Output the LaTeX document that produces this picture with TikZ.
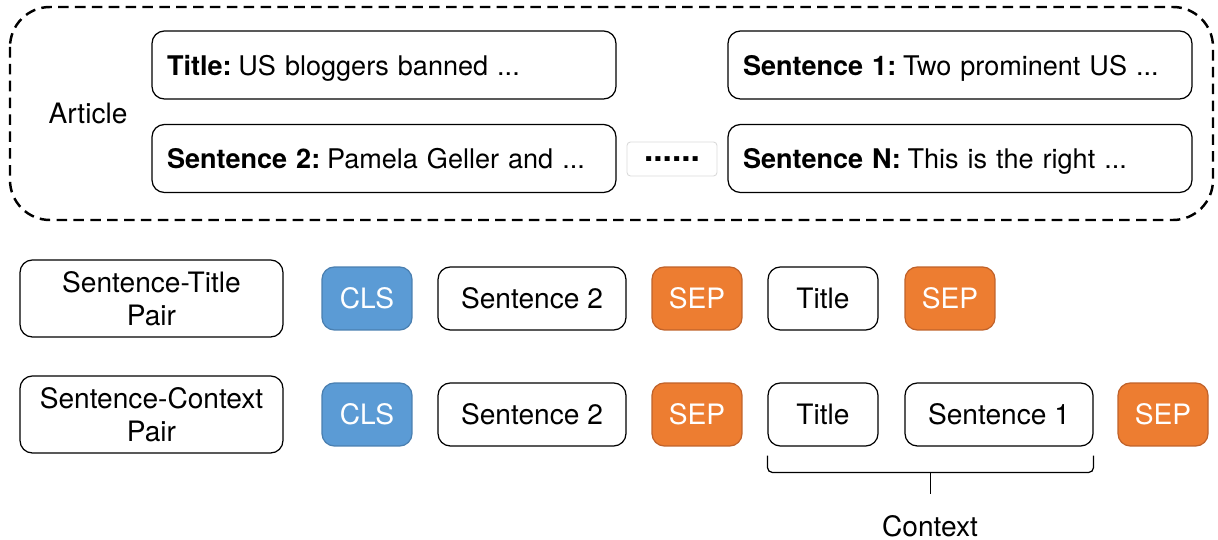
\documentclass[tikz,border=0pt]{standalone}
\usepackage{fontspec}
\setmainfont{TeX Gyre Heros}
\usetikzlibrary{calc}
\definecolor{clsblue}{HTML}{5B9BD5}
\definecolor{clsedge}{HTML}{4A7FB0}
\definecolor{seporange}{HTML}{ED7D31}
\definecolor{sepedge}{HTML}{C0622A}
\newcommand{\lead}[1]{\textbf{#1}\hspace{0.25em}}
\begin{document}
\begin{tikzpicture}[x=0.02cm, y=-0.02cm,
    font=\fontsize{16}{19}\selectfont,
    box/.style={draw, line width=0.7pt, rounded corners=7pt, minimum height=1.26cm, inner sep=0pt},
    longbox/.style={box, minimum height=1.36cm, text width=8.68cm, align=left, inner xsep=0.3cm,
        text depth=0pt, font=\fontsize{15.4}{18}\selectfont},
    pairbox/.style={box, minimum width=5.26cm, minimum height=1.54cm, align=center},
    cls/.style={box, fill=clsblue, draw=clsedge, text=white, minimum width=1.8cm},
    sep/.style={box, fill=seporange, draw=sepedge, text=white, minimum width=1.8cm}]
    \useasboundingbox (0,0) rectangle (1218,540);

	% article
	\draw[line width=1.4pt, dash pattern=on 6pt off 3.6pt, rounded corners=0.8cm] (10,7) rectangle (1213,220);
	\node (article) at (88,113) {Article};
	\node[longbox] (title) at (384,65) {\mbox{\lead{Title:}US bloggers banned ...}};
	\node[longbox] (sent2) at (384,158.5) {\mbox{\lead{Sentence 2:}Pamela Geller and ...}};
	\node[draw=black!15, line width=0.5pt, rounded corners=2pt, minimum width=1.8cm, minimum height=0.68cm] (dots) at (672,159) {\fontsize{19}{20}\selectfont\textbf{......}};
	\node[longbox] (sent1) at (960,65) {\mbox{\lead{Sentence 1:}Two prominent US ...}};
	\node[longbox] (sentN) at (960,158.5) {\mbox{\lead{Sentence N:}This is the right ...}};

	% sentence-title pair
	\node[pairbox] (pair1) at (151.5,298.5) {Sentence-Title\\Pair};
	\node[cls] (r1cls) at (367,298.5) {CLS};
	\node[box, minimum width=3.76cm] (r1sent2) at (532,298.5) {Sentence 2};
	\node[sep] (r1sep) at (697,298.5) {SEP};
	\node[box, minimum width=2.2cm] (r1title) at (823,298.5) {Title};
	\node[sep] (r1sepb) at (950,298.5) {SEP};

	% sentence-context pair
	\node[pairbox] (pair2) at (151.5,414.5) {Sentence-Context\\Pair};
	\node[cls] (r2cls) at (367,414.5) {CLS};
	\node[box, minimum width=3.76cm] (r2sent2) at (532,414.5) {Sentence 2};
	\node[sep] (r2sep) at (697,414.5) {SEP};
	\node[box, minimum width=2.2cm] (r2title) at (823,414.5) {Title};
	\node[box, minimum width=3.76cm] (r2sent1) at (999,414.5) {Sentence 1};
	\node[sep] (r2sepb) at (1163,414.5) {SEP};

	% brace
	\draw[line width=0.7pt, rounded corners=3pt] ($(r2title.south west)+(0,9)$) -- ++(0,17) -- ($(r2sent1.south east)+(0,26)$) -- ++(0,-17);
	\coordinate (tick) at ($(r2title.south west)!0.5!(r2sent1.south east)+(0,26)$);
	\draw[line width=0.7pt] (tick) -- ++(0,21);
	\node (context) at (930,526) {Context};
\end{tikzpicture}
\end{document}
